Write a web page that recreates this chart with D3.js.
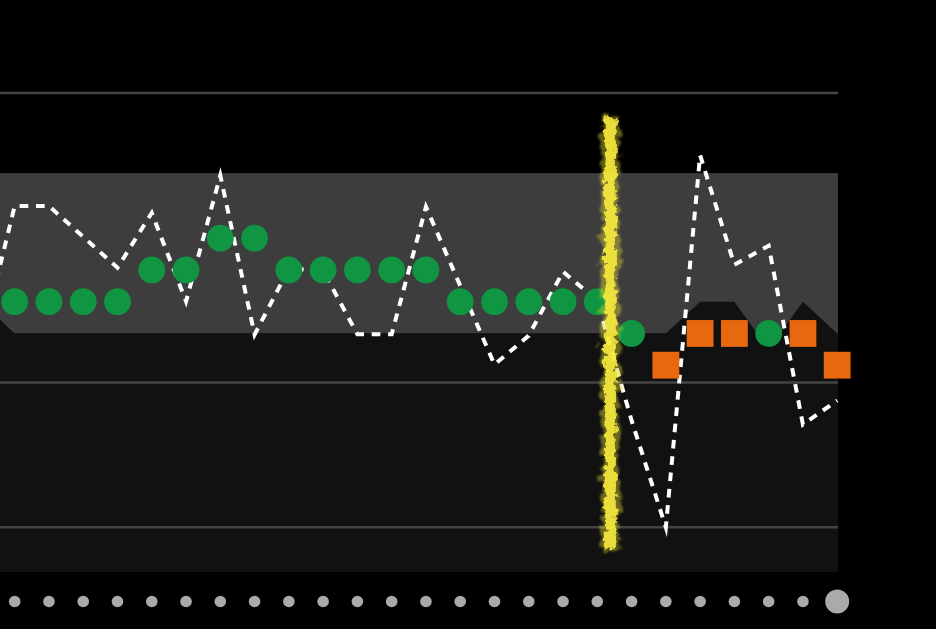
<!DOCTYPE html>
<html><head><meta charset="utf-8">
<script src="https://cdn.jsdelivr.net/npm/d3@7"></script>
<style>html,body{margin:0;padding:0;background:#000;overflow:hidden}</style>
</head><body><svg id="c" width="936" height="629"></svg>
<script>
// ---- data ----
const categories = ["P00","P01","P02","P03","P04","P05","P06","P07","P08","P09","P10","P11","P12",
  "P13","P14","P15","P16","P17","P18","P19","P20","P21","P22","P23","P24","P25"];
// dashed line values (value axis)
const lineValues = [1.255, 2.219, 2.219, 2.007, 1.793, 2.172, 1.56, 2.43, 1.331, 1.786, 1.772, 1.334, 1.334,
  2.214, 1.669, 1.124, 1.324, 1.766, 1.566, 0.738, 0.0, 2.57, 1.814, 1.945, 0.71, 0.876];
// marker levels (level axis); first category is off-screen
const markerLevels = [null, 2, 2, 2, 2, 3, 3, 4, 4, 3, 3, 3, 3, 3, 2, 2, 2, 2, 2, 1, 0, 1, 1, 1, 1, 0];
const markerKinds = [null, "g","g","g","g","g","g","g","g","g","g","g","g","g","g","g","g","g","g","g",
  "o","o","o","g","o","o"];
// dark area levels (level axis)
const areaLevels = [2, 1, 1, 1, 1, 1, 1, 1, 1, 1, 1, 1, 1, 1, 1, 1, 1, 1, 1, 1, 1, 2, 2, 0.5, 2, 1];
const bandTopLevel = 6.05;
const gridTicks = [0, 1, 3];
const nowPosition = { index: 18, offset: 0.38, from: -0.16, to: 2.84 };
const navCategories = categories.slice(1);
const navSelected = "P25";

// ---- layout ----
const W = 936, H = 629;
const plotRight = 838, plotBottom = 572;
const svg = d3.select("#c");
svg.append("rect").attr("width", W).attr("height", H).attr("fill", "#000");

const x = d3.scalePoint().domain(categories).range([-19.6, 837.2]);
const y = d3.scaleLinear().domain([0, 3]).range([527.3, 93]);
const lv = d3.scaleLinear().domain([0, 4]).range([365.2, 238.2]);

const nx = x(categories[nowPosition.index]) + nowPosition.offset * x.step();

const defs = svg.append("defs");
function roughFilter(id, freq, scale, blur, seed) {
  const f = defs.append("filter").attr("id", id).attr("filterUnits", "userSpaceOnUse")
    .attr("x", nx - 40).attr("y", 80).attr("width", 80).attr("height", 500);
  f.append("feTurbulence").attr("type", "fractalNoise").attr("baseFrequency", freq)
    .attr("numOctaves", 4).attr("seed", seed).attr("result", "n");
  f.append("feDisplacementMap").attr("in", "SourceGraphic").attr("in2", "n")
    .attr("scale", scale).attr("xChannelSelector", "R").attr("yChannelSelector", "G").attr("result", "d");
  f.append("feGaussianBlur").attr("in", "d").attr("stdDeviation", blur);
}
roughFilter("roughGlow", "0.12", 16, 1.3, 7);
roughFilter("roughCore", "0.15", 10, 0.5, 3);

// gray band
svg.append("rect").attr("x", 0).attr("y", lv(bandTopLevel))
  .attr("width", plotRight).attr("height", plotBottom - lv(bandTopLevel)).attr("fill", "#3d3d3d");

// dark area
const area = d3.area().x((d, i) => x(categories[i])).y0(plotBottom).y1(d => lv(d));
svg.append("rect").attr("x", 0).attr("y", lv(1)).attr("width", plotRight)
  .attr("height", plotBottom - lv(1)).attr("fill", "#111111");
svg.append("path").datum(areaLevels).attr("d", area).attr("fill", "#111111");

// gridlines
svg.append("g").selectAll("line").data(gridTicks).join("line")
  .attr("x1", 0).attr("x2", plotRight).attr("y1", d => y(d)).attr("y2", d => y(d))
  .attr("stroke", "#444").attr("stroke-width", 2.6);

// dashed line: dash phase aligned to reference dash positions
const pts = lineValues.map((v, i) => [x(categories[i]), y(v)]);
const cum = [0];
for (let i = 1; i < pts.length; i++) cum.push(cum[i - 1] + Math.hypot(pts[i][0] - pts[i - 1][0], pts[i][1] - pts[i - 1][1]));
function lengthAt(seg, xp) {
  const a = pts[seg], b = pts[seg + 1];
  const t = (xp - a[0]) / (b[0] - a[0]);
  return cum[seg] + t * (cum[seg + 1] - cum[seg]);
}
const A = lengthAt(1, 36), B = lengthAt(11, 371.7);
const nP = Math.round((B - A) / 16.5);
const period = (B - A) / nP;
const dash = period * 0.53;
const offset = period - (A % period);

const line = d3.line().x((d, i) => x(categories[i])).y(d => y(d));
svg.append("path").datum(lineValues).attr("d", line).attr("fill", "none")
  .attr("stroke", "#fff").attr("stroke-width", 4)
  .attr("stroke-dasharray", `${dash},${period - dash}`).attr("stroke-dashoffset", offset)
  .attr("stroke-linejoin", "miter").attr("stroke-miterlimit", 10);

// markers
const mk = categories.map((c, i) => ({ c, lvl: markerLevels[i], kind: markerKinds[i] }))
  .filter(d => d.lvl !== null);
svg.append("g").selectAll("circle").data(mk.filter(d => d.kind === "g")).join("circle")
  .attr("cx", d => x(d.c)).attr("cy", d => lv(d.lvl)).attr("r", 13.4).attr("fill", "#109642");
svg.append("g").selectAll("rect").data(mk.filter(d => d.kind === "o")).join("rect")
  .attr("x", d => x(d.c) - 13.4).attr("y", d => lv(d.lvl) - 13.4)
  .attr("width", 26.8).attr("height", 26.8).attr("fill", "#e86810");

// "now" marker
svg.append("line").attr("x1", nx).attr("x2", nx)
  .attr("y1", y(nowPosition.to)).attr("y2", y(nowPosition.from))
  .attr("stroke", "#e0d430").attr("stroke-width", 18).attr("opacity", 0.45)
  .attr("filter", "url(#roughGlow)");
svg.append("line").attr("x1", nx).attr("x2", nx)
  .attr("y1", y(nowPosition.to) + 2).attr("y2", y(nowPosition.from) - 2)
  .attr("stroke", "#f8ec3c").attr("stroke-width", 11).attr("opacity", 0.9)
  .attr("filter", "url(#roughCore)");

// navigator dots
svg.append("g").selectAll("circle").data(navCategories).join("circle")
  .attr("cx", d => x(d)).attr("cy", 601.5)
  .attr("r", d => d === navSelected ? 12 : 5.8).attr("fill", "#aaa");
</script></body></html>
